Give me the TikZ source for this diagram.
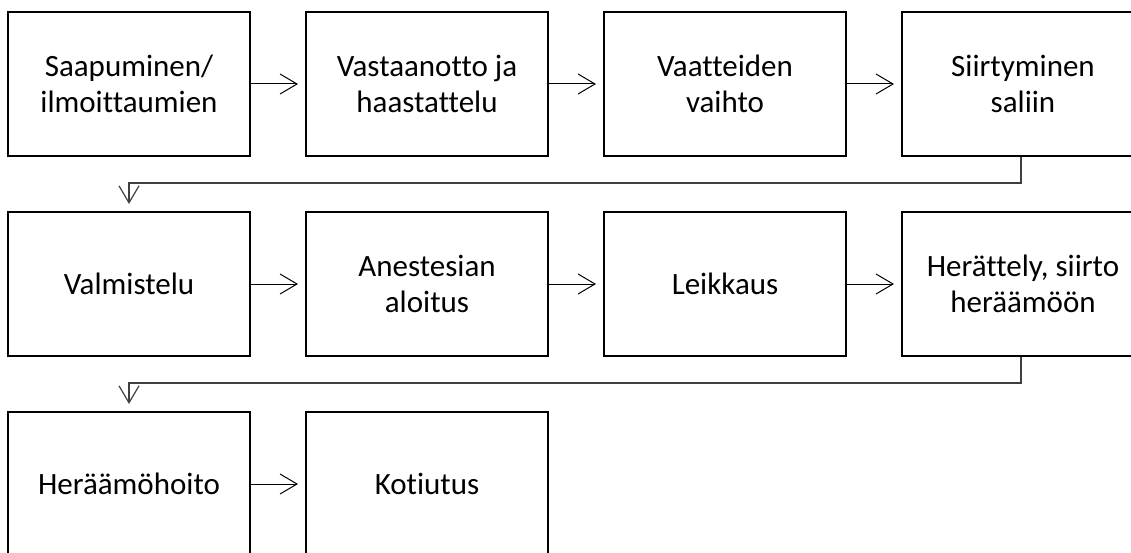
\documentclass[tikz,border=0pt]{standalone}
\usepackage{fontspec}
\setmainfont[Ligatures={NoCommon}]{Carlito}
\usetikzlibrary{arrows.meta}

\tikzset{
 vaihe/.style={draw,line width=2pt,minimum width=242pt,minimum height=144pt,align=center,font=\fontsize{31}{36}\selectfont,inner sep=0pt},
 nuoli/.style={-{Straight Barb[length=17pt,width=20pt]},line width=1pt,shorten >=7pt},
 paluu/.style={-{Straight Barb[length=17pt,width=20pt]},line width=1.2pt,draw=black!75,shorten >=7pt}
}

\begin{document}
\begin{tikzpicture}[x=1pt,y=-1pt]
 \useasboundingbox (0,0) rectangle (1131,553);
 \clip (0,0) rectangle (1131,553);
 % rivi 1
 \node[vaihe] (saapuminen) at (129,84) {Saapuminen/\\ilmoittaumien};
 \node[vaihe] (vastaanotto) at (427,84) {Vastaanotto ja\\haastattelu};
 \node[vaihe] (vaihto) at (725,84) {Vaatteiden\\vaihto};
 \node[vaihe] (siirtyminen) at (1023,84) {Siirtyminen\\saliin};
 % rivi 2
 \node[vaihe] (valmistelu) at (129,284) {Valmistelu};
 \node[vaihe] (anestesia) at (427,284) {Anestesian\\aloitus};
 \node[vaihe] (leikkaus) at (725,284) {Leikkaus};
 \node[vaihe] (herattely) at (1023,284) {Herättely, siirto\\heräämöön};
 % rivi 3
 \node[vaihe] (heraamo) at (129,484) {Heräämöhoito};
 \node[vaihe] (kotiutus) at (427,484) {Kotiutus};

 \draw[nuoli] (saapuminen) -- (vastaanotto);
 \draw[nuoli] (vastaanotto) -- (vaihto);
 \draw[nuoli] (vaihto) -- (siirtyminen);
 \draw[paluu] (siirtyminen.south -| 1021,0) |- (129,183) -- (valmistelu.north);
 \draw[nuoli] (valmistelu) -- (anestesia);
 \draw[nuoli] (anestesia) -- (leikkaus);
 \draw[nuoli] (leikkaus) -- (herattely);
 \draw[paluu] (herattely.south -| 1021,0) |- (129,383) -- (heraamo.north);
 \draw[nuoli] (heraamo) -- (kotiutus);
\end{tikzpicture}
\end{document}
